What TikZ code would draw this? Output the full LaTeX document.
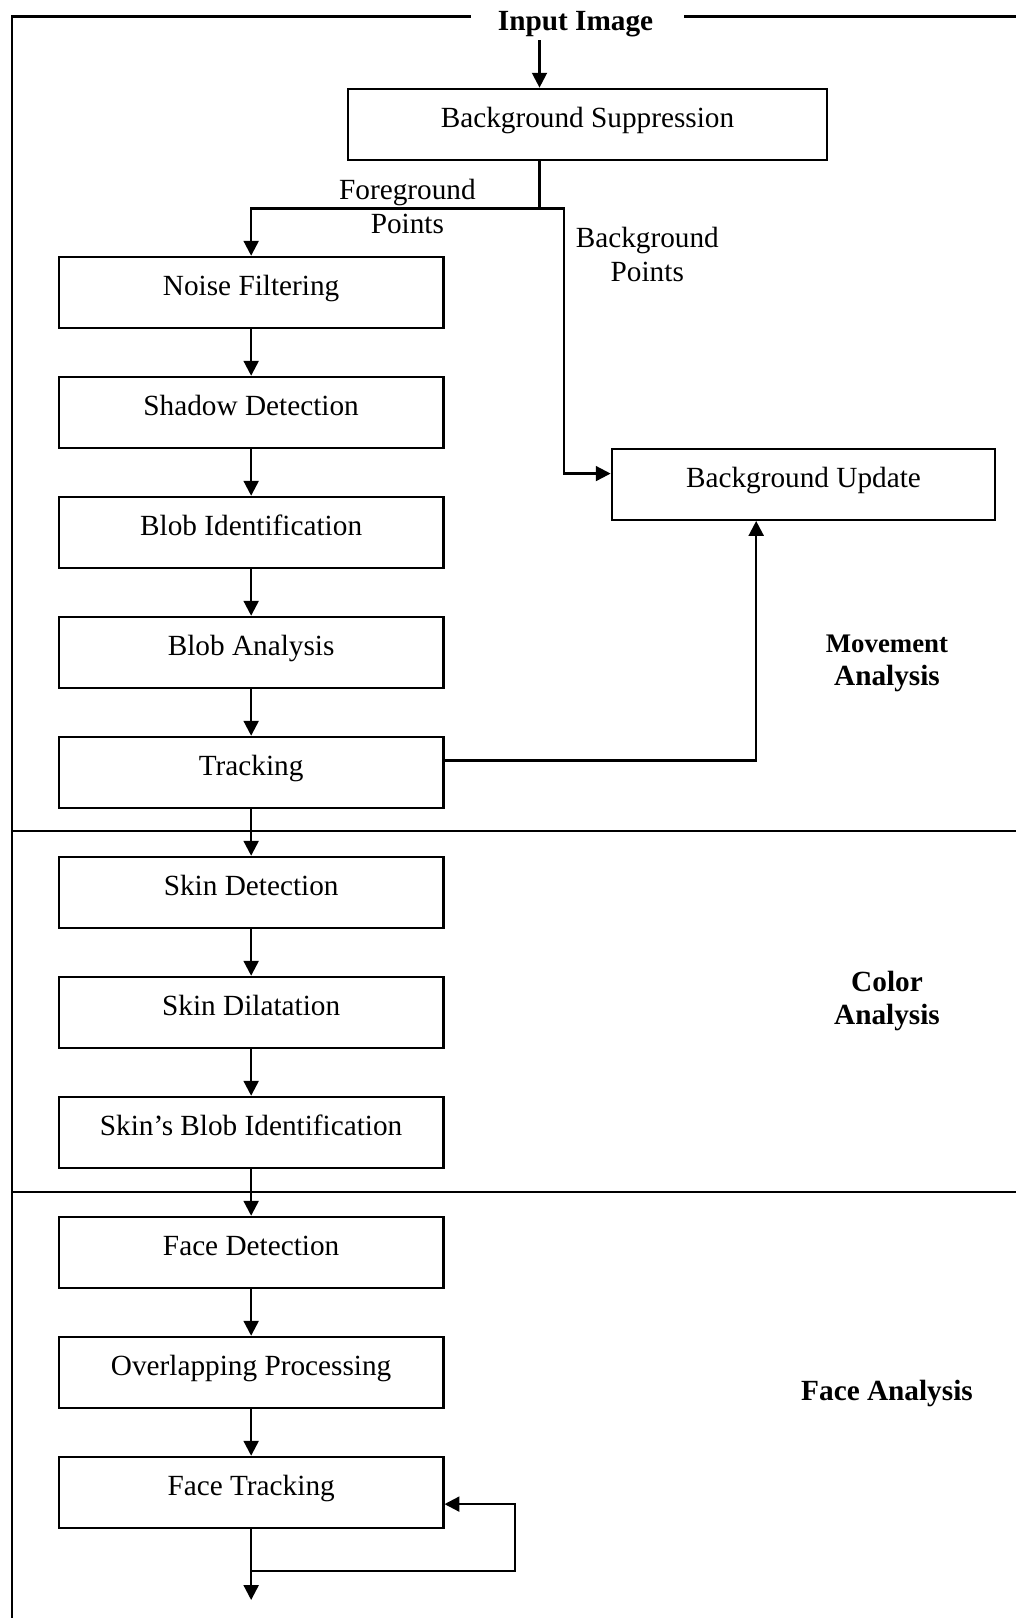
\documentclass[tikz,border=0pt]{standalone}
\usepackage{fontspec}
\setmainfont{Liberation Serif}
\usetikzlibrary{arrows.meta}
\begin{document}
\begin{tikzpicture}[x=0.41pt,y=-0.41pt,
  line width=0.85pt,
  box/.style={draw, line width=0.85pt, minimum width=157.7pt, minimum height=29.2pt, inner sep=0pt, text height=8pt, text depth=5.5pt, font=\fontsize{12}{13.8}\selectfont},
  arr/.style={line width=0.95pt, -{Triangle[length=6.1pt,width=6.1pt]}},
  lbl/.style={align=center, font=\fontsize{12}{13.8}\selectfont, inner sep=0pt},
  sect/.style={align=center, font=\fontsize{12}{13.8}\selectfont\bfseries, inner sep=0pt}]
\useasboundingbox (0,0) rectangle (1016,1618);

% frame and section dividers
\draw (12.4,1620) -- (12.4,16.5) -- (471,16.5);
\draw (684,16.5) -- (1016,16.5);
\draw (12.4,831.4) -- (1016,831.4);
\draw (12.4,1192.4) -- (1016,1192.4);

% nodes
\node[sect] (title) at (575.6,24.5) {Input Image};
\node[box, minimum width=196.7pt] (bs) at (587.5,124.3) {Background Suppression};
\node[box, minimum width=157.3pt] (bu) at (803.5,484.3) {Background Update};
\node[box] (nf)  at (251.15,292.4)  {Noise Filtering};
\node[box] (sd)  at (251.15,412.4)  {Shadow Detection};
\node[box] (bi)  at (251.15,532.4)  {Blob Identification};
\node[box] (ba)  at (251.15,652.4)  {Blob Analysis};
\node[box] (tr)  at (251.15,772.4)  {Tracking};
\node[box] (skd) at (251.15,892.4)  {Skin Detection};
\node[box] (sdl) at (251.15,1012.4) {Skin Dilatation};
\node[box] (sbi) at (251.15,1132.4) {Skin’s Blob Identification};
\node[box] (fd)  at (251.15,1252.4) {Face Detection};
\node[box] (op)  at (251.15,1372.4) {Overlapping Processing};
\node[box] (ft)  at (251.15,1492.4) {Face Tracking};

% labels
\node[lbl] (fgp) at (407.4,206.3) {Foreground\\Points};
\node[lbl] (bgp) at (647.3,254.2) {Background\\Points};
\node[sect] (mov) at (887,663.2) {{\fontsize{11}{13.8}\selectfont Movement}\\Analysis};
\node[sect] (col) at (887,1001) {Color\\Analysis};
\node[sect] (fac) at (887,1393.5) {Face Analysis};

% connectors
\coordinate (in) at (539.5,40);
\draw[arr] (in) -- (in |- bs.north);
\coordinate (split) at (539.5,208.4);
\coordinate (bpt) at (564.2,208.4);
\draw (split |- bs.south) -- (split);
\draw[arr] (split) -| (nf.north);
\draw[arr] (split) -- (bpt) |- ([yshift=4.4pt]bu.west);
\draw[arr] (nf) -- (sd);
\draw[arr] (sd) -- (bi);
\draw[arr] (bi) -- (ba);
\draw[arr] (ba) -- (tr);
\draw[arr] ([yshift=4.9pt]tr.east) -| ([xshift=-19.4pt]bu.south);
\draw[arr] (tr) -- (skd);
\draw[arr] (skd) -- (sdl);
\draw[arr] (sdl) -- (sbi);
\draw[arr] (sbi) -- (fd);
\draw[arr] (fd) -- (op);
\draw[arr] (op) -- (ft);
\coordinate (ftj) at (251.15,1571);
\coordinate (out) at (251.15,1600);
\coordinate (loop) at (514.7,1571);
\draw[arr] (ft.south) -- (out);
\draw[arr] (ftj) -- (loop) |- ([yshift=-4.8pt]ft.east);
\end{tikzpicture}
\end{document}
